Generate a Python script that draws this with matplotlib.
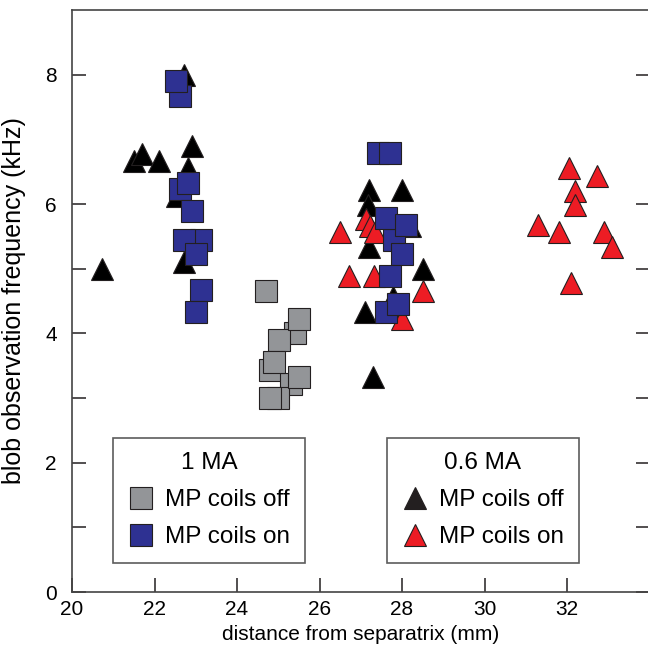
import numpy as np
import matplotlib
matplotlib.use('Agg')
import matplotlib.pyplot as plt
from matplotlib.lines import Line2D

plt.rcParams['font.family'] = ['Liberation Sans', 'DejaVu Sans']

# 1 MA, MP coils off (grey squares)
off1_x = [25.40, 24.80, 25.31, 25.00, 25.01, 24.90, 25.51, 25.51, 24.80, 24.70]
off1_y = [4.00, 3.44, 3.22, 3.00, 3.89, 3.56, 4.22, 3.33, 3.00, 4.66]

# 1 MA, MP coils on (blue squares)
on1_x = [22.61, 22.51, 22.61, 22.81, 22.91, 23.12, 22.71, 23.01, 23.12, 23.01,
         27.41, 27.70, 27.81, 27.61, 28.10, 27.99, 27.70, 27.61, 27.90]
on1_y = [7.67, 7.90, 6.23, 6.33, 5.89, 5.44, 5.44, 5.22, 4.67, 4.33,
         6.79, 6.79, 5.44, 5.78, 5.67, 5.22, 4.89, 4.33, 4.45]

# 0.6 MA, MP coils off (black triangles)
off06_x = [20.72, 21.51, 21.70, 22.11, 22.72, 22.91, 22.80, 22.55, 22.72,
           27.21, 27.99, 27.18, 28.19, 27.21, 28.50, 27.79, 27.10, 27.30]
off06_y = [5.00, 6.67, 6.78, 6.67, 8.00, 6.89, 6.55, 6.12, 5.11,
           6.22, 6.22, 5.99, 5.66, 5.33, 5.00, 4.56, 4.33, 3.33]

# 0.6 MA, MP coils on (red triangles)
on06_x = [26.50, 27.12, 27.22, 27.35, 26.71, 27.31, 28.51, 28.00,
          31.29, 31.80, 32.89, 33.09, 32.09, 32.72, 32.05, 32.20, 32.20]
on06_y = [5.56, 5.77, 5.66, 5.56, 4.89, 4.89, 4.65, 4.22,
          5.67, 5.56, 5.56, 5.34, 4.78, 6.43, 6.55, 6.20, 5.98]

grey = '#939598'
blue = '#2E3192'
red = '#ED1C24'
dark = '#231F20'
fs = 15

fig = plt.figure(figsize=(6.48, 6.51), dpi=100)
ax = fig.add_axes([72/648, 59/651, 577.5/648, 582/651])

msz = 16
ax.plot(off06_x, off06_y, ls='none', marker='^', ms=msz, mfc='black', mec=dark, mew=0.8)
ax.plot(on06_x, on06_y, ls='none', marker='^', ms=msz, mfc=red, mec=dark, mew=0.8)
ax.plot(off1_x, off1_y, ls='none', marker='s', ms=msz - 0.5, mfc=grey, mec=dark, mew=0.8)
ax.plot(on1_x, on1_y, ls='none', marker='s', ms=msz - 0.5, mfc=blue, mec=dark, mew=0.8)

ax.set_xlim(20, 34)
ax.set_ylim(0, 9)
ax.set_xticks(np.arange(20, 33, 2))
ax.set_yticks([0, 2, 4, 6, 8])
ax.set_yticks([1, 3, 5], minor=True)
ax.tick_params(axis='both', which='both', direction='in', length=10, width=1.1,
               color='#231F20', labelsize=fs, right=True)
ax.tick_params(axis='x', pad=6)
ax.tick_params(axis='y', pad=11)
for s in ax.spines.values():
    s.set_color('#444444')
    s.set_linewidth(1.2)

ax.set_xlabel('distance from separatrix (mm)', fontsize=fs, labelpad=4)
ax.set_ylabel('blob observation frequency (kHz)', fontsize=18, labelpad=14)

def make_legend(handles, labels, title, x0):
    leg = ax.legend(handles, labels, title=title, loc='lower left',
                    bbox_to_anchor=(x0, 0.05), fontsize=17.5, title_fontsize=17.5,
                    frameon=True, fancybox=False, edgecolor='#333333',
                    borderpad=0.6, handlelength=1.1, handletextpad=0.45,
                    labelspacing=0.62, borderaxespad=0)
    leg.get_frame().set_linewidth(1.2)
    return leg

h1 = [Line2D([], [], ls='none', marker='s', ms=msz - 0.5, mfc=grey, mec=dark, mew=0.8),
      Line2D([], [], ls='none', marker='s', ms=msz - 0.5, mfc=blue, mec=dark, mew=0.8)]
h2 = [Line2D([], [], ls='none', marker='^', ms=msz, mfc=dark, mec=dark, mew=0.8),
      Line2D([], [], ls='none', marker='^', ms=msz, mfc=red, mec=dark, mew=0.8)]

leg1 = make_legend(h1, ['MP coils off', 'MP coils on'], '1 MA', 0.071)
ax.add_artist(leg1)
make_legend(h2, ['MP coils off', 'MP coils on'], '0.6 MA', 0.545)

fig.savefig('out.png', dpi=100)
